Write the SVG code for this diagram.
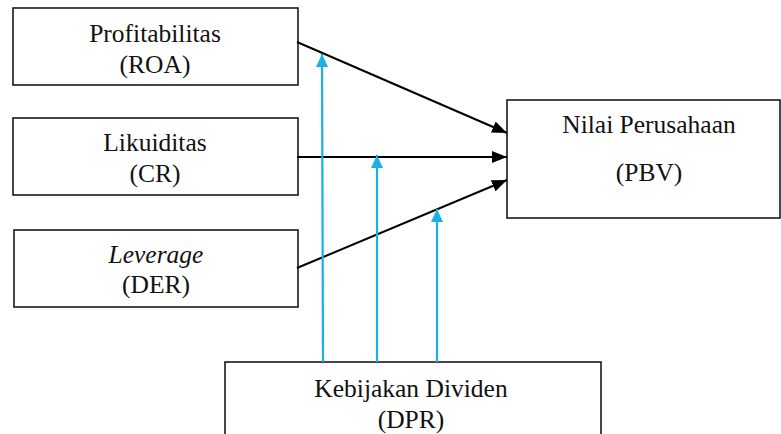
<svg xmlns="http://www.w3.org/2000/svg" width="781" height="434" viewBox="0 0 781 434">
<style>
.box{fill:#fff;stroke:#1a1a1a;stroke-width:1.6}
.t{font-family:'Liberation Serif',Tinos,'Times New Roman',serif;font-size:25.5px;fill:#111;text-anchor:middle}
.blk{stroke:#000;stroke-width:2;fill:none}
.blu{stroke:#1aafe6;stroke-width:2.2;fill:none}
</style>
<defs>
<marker id="ab" markerWidth="15" markerHeight="12" refX="15" refY="6" orient="auto" markerUnits="userSpaceOnUse"><path d="M0,0 L15,6 L0,12 Z" fill="#000"/></marker>
<marker id="au" markerWidth="13" markerHeight="12" refX="13" refY="6" orient="auto" markerUnits="userSpaceOnUse"><path d="M0,0 L13,6 L0,12 Z" fill="#1aafe6"/></marker>
</defs>
<rect width="781" height="434" fill="#fff"/>
<g id="roa"><rect class="box" x="13" y="8" width="285" height="77"/><text class="t" x="155" y="42">Profitabilitas</text><text class="t" x="155" y="73">(ROA)</text></g>
<g id="cr"><rect class="box" x="13" y="118" width="285" height="77"/><text class="t" x="155" y="151">Likuiditas</text><text class="t" x="155" y="182">(CR)</text></g>
<g id="der"><rect class="box" x="14" y="230" width="284" height="77"/><text class="t" x="156" y="263" font-style="italic">Leverage</text><text class="t" x="156" y="293">(DER)</text></g>
<g id="pbv"><rect class="box" x="507" y="100" width="273" height="118"/><text class="t" x="649" y="133">Nilai Perusahaan</text><text class="t" x="649" y="181">(PBV)</text></g>
<g id="dpr"><rect class="box" x="225" y="362" width="376" height="80"/><text class="t" x="411" y="397">Kebijakan Dividen</text><text class="t" x="411" y="428">(DPR)</text></g>
<g id="connectors">
<line class="blk" x1="297" y1="42" x2="507" y2="133" marker-end="url(#ab)"/>
<line class="blk" x1="297" y1="157" x2="507" y2="157" marker-end="url(#ab)"/>
<line class="blk" x1="297" y1="268" x2="507" y2="180" marker-end="url(#ab)"/>
<line class="blu" x1="323" y1="362" x2="322" y2="54" marker-end="url(#au)"/>
<line class="blu" x1="377" y1="362" x2="377" y2="155" marker-end="url(#au)"/>
<line class="blu" x1="437" y1="362" x2="437" y2="209" marker-end="url(#au)"/>
</g>
</svg>
